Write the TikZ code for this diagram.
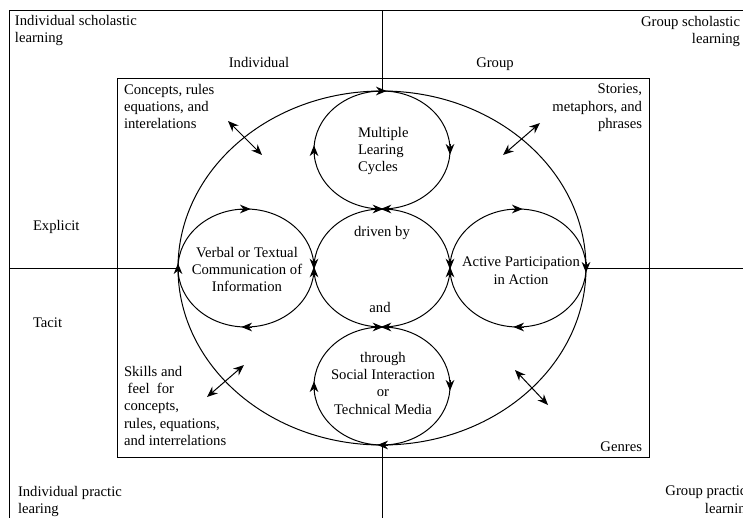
\documentclass[tikz,border=0pt]{standalone}
\usepackage{fontspec}
\setmainfont{Liberation Serif}
\usetikzlibrary{arrows.meta,shapes.geometric}
% arrowheads along the cycles: centred on a point, or with the tip on it
\newcommand\hdR[1]{\draw[arrowhd] ([xshift=-4.5pt]#1) -- ([xshift=3.5pt]#1);}
\newcommand\hdL[1]{\draw[arrowhd] ([xshift=4.5pt]#1) -- ([xshift=-3.5pt]#1);}
\newcommand\hdD[1]{\draw[arrowhd] ([yshift=4.5pt]#1) -- ([yshift=-3.5pt]#1);}
\newcommand\hdU[1]{\draw[arrowhd] ([yshift=-4.5pt]#1) -- ([yshift=3.5pt]#1);}
\newcommand\tpR[1]{\draw[arrowhd] ([xshift=-7pt]#1) -- ([xshift=1pt]#1);}
\newcommand\tpL[1]{\draw[arrowhd] ([xshift=7pt]#1) -- ([xshift=-1pt]#1);}
\newcommand\tpD[1]{\draw[arrowhd] ([yshift=7pt]#1) -- ([yshift=-1pt]#1);}
\newcommand\tpU[1]{\draw[arrowhd] ([yshift=-7pt]#1) -- ([yshift=1pt]#1);}
\begin{document}
\begin{tikzpicture}[x=0.75pt,y=-0.75pt,
  line width=0.75pt,
  txt/.style={font=\fontsize{11}{13}\selectfont, inner sep=0pt, outer sep=0pt},
  cyc/.style={draw, ellipse, minimum width=102pt, minimum height=88.5pt,
              inner sep=0pt, outer sep=0pt},
  arrowhd/.style={-{Stealth[length=8pt,width=6.5pt]}},
  twoway/.style={{Stealth[length=8pt,width=6.5pt]}-{Stealth[length=8pt,width=6.5pt]}}]
\useasboundingbox (0,0) rectangle (743,518);
\clip (0,0) rectangle (743,518);

% frame corners and axis ends
\coordinate (fTL) at (9,10);
\coordinate (fTR) at (743,10);
\coordinate (fBL) at (9,518);
\coordinate (axT) at (382,10);
\coordinate (axB) at (382,518);
\coordinate (axL) at (9,268);
\coordinate (axR) at (743,268);

\draw (fTR) -- (fTL) -- (fBL);

% genres box
\node[draw, minimum width=399pt, minimum height=284.25pt, inner sep=0pt, outer sep=0pt]
  (box) at (383,267.5) {};

% overall cycle and the five learning cycles
\node[draw, ellipse, minimum width=306pt, minimum height=265.5pt, inner sep=0pt, outer sep=0pt]
  (E) at (382,268) {};
\node[cyc] (T) at (382,150) {};
\node[cyc] (C) at (382,268) {};
\node[cyc] (B) at (382,386) {};
\node[cyc] (L) at (246,268) {};
\node[cyc] (R) at (518,268) {};

% axes
\draw (axT) -- (E.north);
\draw (E.south) -- (axB);
\draw (axL) -- (E.west);
\draw (E.east) -- (axR);

% direction of circulation
\hdR{T.north} \hdD{T.east} \hdU{T.west}
\hdR{L.north} \hdL{L.south} \hdU{L.west}
\hdR{R.north} \hdL{R.south} \hdD{R.east}
\hdD{B.east} \hdU{B.west} \hdL{B.south}
\tpR{C.north} \tpL{T.south}
\tpD{L.east} \tpU{C.west}
\tpD{C.east} \tpU{R.west}
\tpR{B.north} \tpL{C.south}

% exchanges across the outer cycle
\coordinate (a1) at (228,121); \coordinate (b1) at (262,155);
\coordinate (a2) at (503,155); \coordinate (b2) at (540,123);
\coordinate (a3) at (207,397); \coordinate (b3) at (244,365);
\coordinate (a4) at (515,370); \coordinate (b4) at (548,405);
\draw[twoway] (a1) -- (b1);
\draw[twoway] (a2) -- (b2);
\draw[twoway] (a3) -- (b3);
\draw[twoway] (a4) -- (b4);

% quadrant labels
\node[txt, anchor=north west, align=left] (q1) at (15,15) {Individual scholastic\\learning};
\node[txt, anchor=north east, align=right] (q2) at (740,16) {Group scholastic\\learning};
\node[txt, anchor=north west, align=left] (q3) at (18,486) {Individual practic\\learing};
\node[txt, anchor=north east, align=right] (q4) at (753,486) {Group practice\\learning};

\node[txt, anchor=base] (ind) at (259,67) {Individual};
\node[txt, anchor=base] (grp) at (495,67) {Group};
\node[txt, anchor=base west] (exp) at (33,230) {Explicit};
\node[txt, anchor=base west] (tac) at (33,327) {Tacit};

% corner texts inside the box
\node[txt, anchor=north west, align=left] (k1) at (124,84) {Concepts, rules\\equations, and\\interelations};
\node[txt, anchor=north east, align=right] (k2) at (642,84) {Stories,\\metaphors, and\\phrases};
\node[txt, anchor=north west, align=left] (k3) at (124,366) {Skills and\\\ feel\ \ for\\concepts,\\rules, equations,\\and interrelations};
\node[txt, anchor=base east] (k4) at (642,451) {Genres};

% cycle texts
\node[txt, anchor=north west, align=left] at (358,127) {Multiple\\Learing\\Cycles};
\node[txt, anchor=base] at (382,236) {driven by};
\node[txt, anchor=base] at (380,312) {and};
\node[txt, anchor=north, align=center] at (247,247) {Verbal or Textual\\Communication of\\Information};
\node[txt, anchor=north, align=center] at (521,257) {Active Participation\\in Action};
\node[txt, anchor=north, align=center] at (383,352) {through\\Social Interaction\\or\\Technical Media};
\end{tikzpicture}
\end{document}
